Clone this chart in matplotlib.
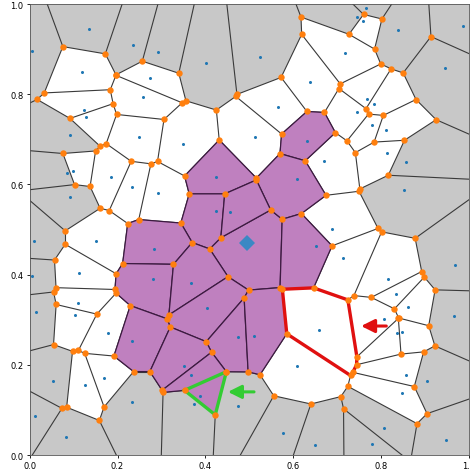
import numpy as np
import matplotlib
matplotlib.use('Agg')
import matplotlib.pyplot as plt
import matplotlib.tri as mtri
from matplotlib.collections import LineCollection
from matplotlib.patches import Polygon

# seed the purple patch grows from (drawn as a diamond)
centre_x = [0.495]
centre_y = [0.469]

# the rest of the purple patch
purple_x = [0.631, 0.608, 0.424, 0.424, 0.457, 0.651, 0.282, 0.281, 0.367,
            0.403, 0.233, 0.475, 0.511, 0.352, 0.367]
purple_y = [0.696, 0.613, 0.616, 0.542, 0.539, 0.464, 0.457, 0.390, 0.382,
            0.325, 0.253, 0.261, 0.263, 0.197, 0.177]

# triangular purple cell outlined in green
green_x = [0.387]
green_y = [0.131]

# white cell outlined in red
red_x = [0.659]
red_y = [0.278]

other_x = [0.135, 0.005, 0.236, 0.293, 0.119, 0.274, 0.257, 0.123, 0.128, 0.092,
           0.248, 0.402, 0.524, 0.638, 0.566, 0.514, 0.349, 0.765, 0.746, 0.758,
           0.838, 0.986, 0.718, 0.945, 0.767, 0.784, 0.746, 0.780, 0.811, 0.814,
           0.085, 0.098, 0.186, 0.091, 0.234, 0.292, 0.152, 0.010, 0.112, 0.005,
           0.110, 0.671, 0.856, 0.853, 0.689, 0.713, 0.969, 0.816, 0.833, 0.014,
           0.104, 0.179, 0.053, 0.127, 0.170, 0.233, 0.013, 0.082, 0.373, 0.474,
           0.608, 0.576, 0.650, 0.862, 0.966, 0.807, 0.835, 0.848, 0.857, 0.904,
           0.848, 0.807, 0.948, 0.780]
other_y = [0.945, 0.896, 0.910, 0.894, 0.849, 0.835, 0.793, 0.765, 0.750, 0.710,
           0.706, 0.869, 0.883, 0.827, 0.771, 0.706, 0.690, 0.991, 0.971, 0.962,
           0.942, 0.952, 0.891, 0.858, 0.789, 0.778, 0.760, 0.732, 0.721, 0.670,
           0.625, 0.630, 0.616, 0.571, 0.594, 0.581, 0.474, 0.474, 0.403, 0.397,
           0.336, 0.652, 0.650, 0.587, 0.501, 0.436, 0.421, 0.390, 0.356, 0.316,
           0.310, 0.271, 0.163, 0.155, 0.171, 0.117, 0.086, 0.041, 0.113, 0.108,
           0.198, 0.049, 0.023, 0.328, 0.309, 0.302, 0.271, 0.272, 0.177, 0.164,
           0.137, 0.059, 0.034, 0.024]

xs = np.array(centre_x + purple_x + green_x + red_x + other_x)
ys = np.array(centre_y + purple_y + green_y + red_y + other_y)
pts = np.column_stack([xs, ys])
n_purple = len(centre_x) + len(purple_x) + len(green_x)
green_idx = len(centre_x) + len(purple_x)
red_idx = green_idx + 1

# Voronoi diagram from the Delaunay triangulation
tri = mtri.Triangulation(xs, ys)
T = tri.triangles
NB = tri.neighbors


def circumcentre(a, b, c):
    d = 2 * (a[0] * (b[1] - c[1]) + b[0] * (c[1] - a[1]) + c[0] * (a[1] - b[1]))
    aa, bb, cc = a @ a, b @ b, c @ c
    ux = (aa * (b[1] - c[1]) + bb * (c[1] - a[1]) + cc * (a[1] - b[1])) / d
    uy = (aa * (c[0] - b[0]) + bb * (a[0] - c[0]) + cc * (b[0] - a[0])) / d
    return ux, uy


verts = np.array([circumcentre(*pts[t]) for t in T])

segments = []
on_hull = set()
for t in range(len(T)):
    for j in range(3):
        nb = NB[t, j]
        if nb > t:
            segments.append([verts[t], verts[nb]])
        elif nb == -1:
            a, b, c = pts[T[t, j]], pts[T[t, (j + 1) % 3]], pts[T[t, (j + 2) % 3]]
            on_hull.update([T[t, j], T[t, (j + 1) % 3]])
            e = b - a
            nrm = np.array([-e[1], e[0]])
            if np.dot(nrm, c - a) > 0:
                nrm = -nrm
            nrm /= np.linalg.norm(nrm)
            segments.append([verts[t], verts[t] + 5 * nrm])


def cell(i):
    idx = np.where((T == i).any(axis=1))[0]
    v = verts[idx]
    ang = np.arctan2(v[:, 1] - pts[i, 1], v[:, 0] - pts[i, 0])
    return v[np.argsort(ang)]


fig = plt.figure(figsize=(4.7, 4.77), dpi=100)
ax = fig.add_axes([0.063, 0.044, 0.935, 0.9455])
ax.set_facecolor('#c8c8c8')

for i in range(len(pts)):
    if i in on_hull:
        continue
    poly = cell(i)
    if i < n_purple:
        ax.add_patch(Polygon(poly, closed=True, facecolor='#bf80bf',
                             edgecolor='#3c1a40', lw=0.9, zorder=2))
    elif (poly >= 0).all() and (poly <= 1).all():
        ax.add_patch(Polygon(poly, closed=True, facecolor='white',
                             edgecolor='none', zorder=1))

ax.add_collection(LineCollection(segments, colors='#3a3a3a', linewidths=0.8,
                                 zorder=1.5))

ax.add_patch(Polygon(cell(red_idx), closed=True, fill=False,
                     edgecolor='#e01010', lw=2.4, zorder=3))
ax.add_patch(Polygon(cell(green_idx), closed=True, fill=False,
                     edgecolor='#33cc33', lw=2.4, zorder=3))

ax.plot(verts[:, 0], verts[:, 1], 'o', color='#ff7f0e', ms=4.6, mew=0, zorder=4)
ax.plot(xs, ys, 'o', color='#1f77b4', ms=2.2, mew=0, zorder=5)
ax.plot(centre_x, centre_y, 'D', color='#3b88c4', ms=8, mew=0, zorder=5)

# arrows pointing at the two outlined cells
ax.annotate('', xy=(0.748, 0.286), xytext=(0.818, 0.286),
            arrowprops=dict(arrowstyle='-|>', color='#e01010', lw=2.2,
                            mutation_scale=20), zorder=6)
ax.annotate('', xy=(0.445, 0.140), xytext=(0.517, 0.140),
            arrowprops=dict(arrowstyle='-|>', color='#33cc33', lw=2.2,
                            mutation_scale=20), zorder=6)

ax.set_xlim(0, 1)
ax.set_ylim(0, 1)
ax.tick_params(labelsize=6, length=2.5, width=0.6, pad=2)
for s in ax.spines.values():
    s.set_linewidth(0.6)
    s.set_color('#555555')

fig.savefig('out.png', dpi=100)
